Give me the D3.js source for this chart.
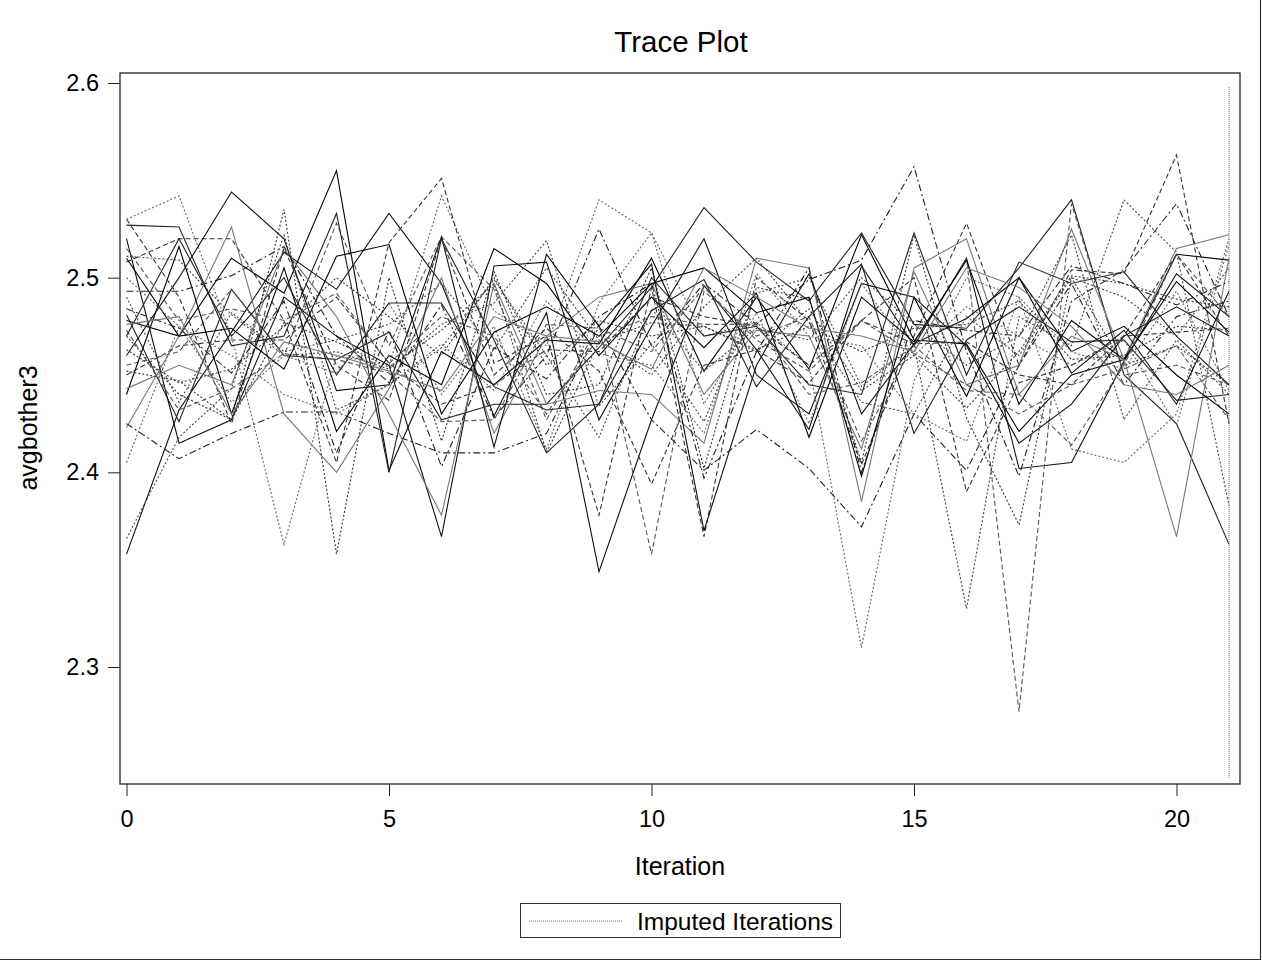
<!DOCTYPE html>
<html lang="en">
<head>
  <meta charset="UTF-8" />
  <title>Trace Plot</title>
  <style>
    body {
      margin: 0;
      background-color: #fff;
      font-family: "Liberation Sans", Arial, sans-serif;
    }

    svg {
      display: block;
    }

    .trace {
      fill: none;
      stroke-width: 1.1px;
    }

    .axis text {
      font-size: 23.5px;
      fill: #000;
    }

    .axis line {
      stroke: #222;
    }
  </style>
</head>
<body>
  <svg width="1262" height="961"></svg>

  <script src="https://d3js.org/d3.v7.min.js"></script>
  <script>
    // iterations 0..21
    const iterations = d3.range(0, 22);

    const xTicks = [0, 5, 10, 15, 20];
    const yTicks = [2.3, 2.4, 2.5, 2.6];

    // imputed iteration marker (vertical reference line)
    const imputedAt = 21;
    const imputedRange = [2.2425, 2.598];

    // one chain per imputation
    const chain1  = [2.478, 2.470, 2.510, 2.492, 2.555, 2.401, 2.462, 2.445, 2.468, 2.466, 2.510, 2.452, 2.490, 2.453, 2.522, 2.468, 2.466, 2.421, 2.450, 2.458, 2.512, 2.509];
    const chain2  = [2.358, 2.432, 2.472, 2.513, 2.494, 2.533, 2.497, 2.429, 2.482, 2.349, 2.427, 2.496, 2.463, 2.422, 2.506, 2.465, 2.510, 2.402, 2.405, 2.457, 2.502, 2.480];
    const chain3  = [2.481, 2.426, 2.494, 2.460, 2.458, 2.472, 2.427, 2.435, 2.435, 2.464, 2.495, 2.536, 2.508, 2.488, 2.523, 2.476, 2.474, 2.505, 2.540, 2.450, 2.425, 2.363];
    const chain4  = [2.530, 2.542, 2.470, 2.363, 2.460, 2.455, 2.542, 2.483, 2.465, 2.540, 2.523, 2.470, 2.477, 2.455, 2.310, 2.447, 2.500, 2.490, 2.412, 2.405, 2.430, 2.520];
    const chain5  = [2.508, 2.520, 2.520, 2.478, 2.405, 2.518, 2.551, 2.456, 2.470, 2.378, 2.495, 2.367, 2.500, 2.478, 2.404, 2.470, 2.528, 2.455, 2.504, 2.502, 2.563, 2.425];
    const chain6  = [2.493, 2.493, 2.501, 2.516, 2.470, 2.446, 2.486, 2.428, 2.460, 2.525, 2.465, 2.497, 2.476, 2.499, 2.509, 2.557, 2.462, 2.398, 2.488, 2.504, 2.538, 2.480];
    const chain7  = [2.511, 2.509, 2.481, 2.460, 2.462, 2.453, 2.476, 2.487, 2.519, 2.434, 2.466, 2.426, 2.492, 2.500, 2.444, 2.465, 2.330, 2.480, 2.465, 2.540, 2.513, 2.383];
    const chain8  = [2.455, 2.462, 2.494, 2.460, 2.528, 2.465, 2.521, 2.494, 2.427, 2.476, 2.358, 2.493, 2.470, 2.480, 2.416, 2.466, 2.510, 2.277, 2.538, 2.450, 2.455, 2.445];
    const chain9  = [2.423, 2.470, 2.526, 2.430, 2.400, 2.443, 2.500, 2.420, 2.470, 2.490, 2.497, 2.440, 2.473, 2.470, 2.412, 2.503, 2.445, 2.455, 2.525, 2.458, 2.515, 2.522];
    const chain10 = [2.470, 2.440, 2.427, 2.535, 2.358, 2.500, 2.416, 2.503, 2.440, 2.445, 2.505, 2.402, 2.495, 2.489, 2.405, 2.522, 2.428, 2.373, 2.500, 2.455, 2.465, 2.445];
    const chain11 = [2.440, 2.516, 2.430, 2.505, 2.421, 2.460, 2.445, 2.515, 2.497, 2.460, 2.490, 2.464, 2.492, 2.418, 2.490, 2.467, 2.509, 2.435, 2.478, 2.458, 2.498, 2.472];
    const chain12 = [2.520, 2.415, 2.427, 2.490, 2.470, 2.455, 2.367, 2.506, 2.508, 2.427, 2.475, 2.520, 2.450, 2.430, 2.497, 2.490, 2.465, 2.415, 2.435, 2.470, 2.485, 2.470];
    const chain13 = [2.527, 2.526, 2.465, 2.470, 2.533, 2.400, 2.520, 2.468, 2.410, 2.435, 2.500, 2.470, 2.475, 2.445, 2.440, 2.523, 2.450, 2.508, 2.497, 2.503, 2.470, 2.445];
    const chain14 = [2.405, 2.475, 2.436, 2.460, 2.451, 2.487, 2.440, 2.475, 2.412, 2.487, 2.523, 2.435, 2.482, 2.425, 2.497, 2.460, 2.485, 2.470, 2.455, 2.468, 2.424, 2.517];
    const chain15 = [2.450, 2.465, 2.468, 2.468, 2.490, 2.456, 2.435, 2.445, 2.463, 2.462, 2.490, 2.480, 2.475, 2.455, 2.478, 2.466, 2.467, 2.450, 2.445, 2.470, 2.472, 2.474];
    const chain16 = [2.425, 2.407, 2.420, 2.431, 2.431, 2.420, 2.410, 2.410, 2.420, 2.475, 2.427, 2.401, 2.422, 2.402, 2.372, 2.430, 2.401, 2.455, 2.497, 2.445, 2.480, 2.488];
    const chain17 = [2.490, 2.436, 2.482, 2.462, 2.468, 2.476, 2.497, 2.463, 2.505, 2.468, 2.450, 2.485, 2.510, 2.477, 2.436, 2.430, 2.480, 2.460, 2.500, 2.490, 2.470, 2.505];
    const chain18 = [2.473, 2.432, 2.443, 2.461, 2.458, 2.451, 2.426, 2.427, 2.476, 2.474, 2.462, 2.495, 2.468, 2.452, 2.478, 2.461, 2.445, 2.430, 2.445, 2.453, 2.465, 2.427];
    const chain19 = [2.443, 2.455, 2.445, 2.515, 2.480, 2.430, 2.378, 2.497, 2.435, 2.442, 2.440, 2.415, 2.510, 2.505, 2.385, 2.505, 2.520, 2.440, 2.470, 2.458, 2.367, 2.510];
    const chain20 = [2.463, 2.446, 2.453, 2.475, 2.500, 2.480, 2.460, 2.500, 2.455, 2.478, 2.470, 2.475, 2.463, 2.475, 2.462, 2.474, 2.476, 2.488, 2.458, 2.460, 2.475, 2.473];
    const chain21 = [2.510, 2.470, 2.474, 2.453, 2.511, 2.517, 2.430, 2.472, 2.485, 2.470, 2.497, 2.505, 2.482, 2.490, 2.398, 2.490, 2.439, 2.500, 2.462, 2.475, 2.450, 2.430];
    const chain22 = [2.460, 2.500, 2.544, 2.520, 2.442, 2.445, 2.521, 2.413, 2.512, 2.475, 2.507, 2.370, 2.455, 2.502, 2.430, 2.466, 2.479, 2.500, 2.451, 2.473, 2.435, 2.493];
    const chain23 = [2.470, 2.520, 2.470, 2.500, 2.450, 2.487, 2.487, 2.444, 2.432, 2.435, 2.483, 2.499, 2.444, 2.480, 2.507, 2.420, 2.468, 2.485, 2.467, 2.468, 2.437, 2.440];
    const chain24 = [2.500, 2.475, 2.460, 2.440, 2.430, 2.445, 2.466, 2.442, 2.488, 2.461, 2.455, 2.420, 2.502, 2.470, 2.465, 2.430, 2.416, 2.490, 2.462, 2.453, 2.493, 2.442];
    const chain25 = [2.530, 2.490, 2.425, 2.515, 2.455, 2.437, 2.520, 2.450, 2.474, 2.452, 2.394, 2.455, 2.463, 2.446, 2.478, 2.500, 2.390, 2.446, 2.455, 2.470, 2.512, 2.470];
    const chain26 = [2.484, 2.474, 2.451, 2.488, 2.410, 2.473, 2.403, 2.464, 2.448, 2.480, 2.497, 2.397, 2.462, 2.505, 2.400, 2.478, 2.473, 2.470, 2.506, 2.497, 2.486, 2.498];
    const chain27 = [2.366, 2.418, 2.443, 2.522, 2.432, 2.445, 2.464, 2.499, 2.460, 2.418, 2.484, 2.452, 2.474, 2.468, 2.500, 2.476, 2.455, 2.470, 2.522, 2.427, 2.468, 2.440];
    const chain28 = [2.515, 2.478, 2.484, 2.478, 2.492, 2.456, 2.480, 2.470, 2.430, 2.470, 2.480, 2.476, 2.476, 2.440, 2.446, 2.465, 2.442, 2.440, 2.414, 2.455, 2.512, 2.480];
    const chain29 = [2.476, 2.480, 2.430, 2.467, 2.460, 2.452, 2.442, 2.480, 2.470, 2.467, 2.453, 2.505, 2.490, 2.474, 2.470, 2.462, 2.505, 2.495, 2.475, 2.445, 2.440, 2.455];
    const chain30 = [2.452, 2.447, 2.427, 2.477, 2.467, 2.454, 2.473, 2.497, 2.410, 2.467, 2.477, 2.475, 2.462, 2.484, 2.442, 2.460, 2.433, 2.462, 2.501, 2.497, 2.489, 2.485];

    const chains = [chain1, chain2, chain3, chain4, chain5, chain6, chain7, chain8, chain9, chain10,
                    chain11, chain12, chain13, chain14, chain15, chain16, chain17, chain18, chain19, chain20,
                    chain21, chain22, chain23, chain24, chain25, chain26, chain27, chain28, chain29, chain30];

    // line looks cycle like the SAS default monochrome style
    const greys = ["#000", "#111", "#222", "#666", "#333", "#222", "#444", "#555", "#777", "#333"];
    const dashes = ["", "", "", "2,2", "5,3", "7,3,2,3", "2,2", "5,3", "", "2,2"];

    const svg = d3.select("svg");

    const plot = { left: 120, right: 1240, top: 73, bottom: 784 };

    const x = d3.scaleLinear().domain([0, 21]).range([126.5, 1229]);
    const y = d3.scaleLinear().domain([2.3, 2.6]).range([667, 83]);

    // title
    svg.append("text")
      .attr("x", 681)
      .attr("y", 52)
      .attr("text-anchor", "middle")
      .style("font-size", "29.5px")
      .text("Trace Plot");

    // traces
    const line = d3.line()
      .x((d, i) => x(iterations[i]))
      .y(d => y(d));

    svg.append("g")
      .selectAll("path")
      .data(chains)
      .join("path")
      .attr("class", "trace")
      .attr("stroke", (d, i) => greys[i % greys.length])
      .attr("stroke-dasharray", (d, i) => dashes[i % dashes.length] || null)
      .attr("d", line);

    // imputed iterations reference line
    svg.append("line")
      .attr("x1", x(imputedAt))
      .attr("x2", x(imputedAt))
      .attr("y1", y(imputedRange[1]))
      .attr("y2", y(imputedRange[0]))
      .attr("stroke", "#666")
      .attr("stroke-width", 1)
      .attr("stroke-dasharray", "1,1");

    // frame
    svg.append("rect")
      .attr("x", plot.left)
      .attr("y", plot.top)
      .attr("width", plot.right - plot.left)
      .attr("height", plot.bottom - plot.top)
      .attr("fill", "none")
      .attr("stroke", "#222")
      .attr("stroke-width", 1.3);

    // axes
    const yAxis = svg.append("g")
      .attr("class", "axis")
      .attr("transform", `translate(${plot.left},0)`)
      .call(d3.axisLeft(y).tickValues(yTicks).tickSize(12).tickPadding(9).tickFormat(d3.format(".1f")));
    yAxis.select(".domain").remove();

    const xAxis = svg.append("g")
      .attr("class", "axis")
      .attr("transform", `translate(0,${plot.bottom})`)
      .call(d3.axisBottom(x).tickValues(xTicks).tickSize(12).tickPadding(14));
    xAxis.select(".domain").remove();

    // axis labels
    svg.append("text")
      .attr("x", 680)
      .attr("y", 875)
      .attr("text-anchor", "middle")
      .style("font-size", "25px")
      .text("Iteration");

    svg.append("text")
      .attr("transform", "translate(37,428) rotate(-90)")
      .attr("text-anchor", "middle")
      .style("font-size", "25px")
      .text("avgbother3");

    // legend
    const legend = svg.append("g");
    legend.append("rect")
      .attr("x", 520.5)
      .attr("y", 903.5)
      .attr("width", 320)
      .attr("height", 34)
      .attr("fill", "none")
      .attr("stroke", "#333")
      .attr("stroke-width", 1);
    legend.append("line")
      .attr("x1", 529)
      .attr("x2", 622)
      .attr("y1", 921)
      .attr("y2", 921)
      .attr("stroke", "#666")
      .attr("stroke-dasharray", "1,1");
    legend.append("text")
      .attr("x", 637)
      .attr("y", 930)
      .style("font-size", "24.5px")
      .text("Imputed Iterations");

    // outer page border (right and bottom)
    svg.append("path")
      .attr("d", "M1260.5,0V959.5H0")
      .attr("fill", "none")
      .attr("stroke", "#333")
      .attr("stroke-width", 1.2);
  </script>
</body>
</html>
